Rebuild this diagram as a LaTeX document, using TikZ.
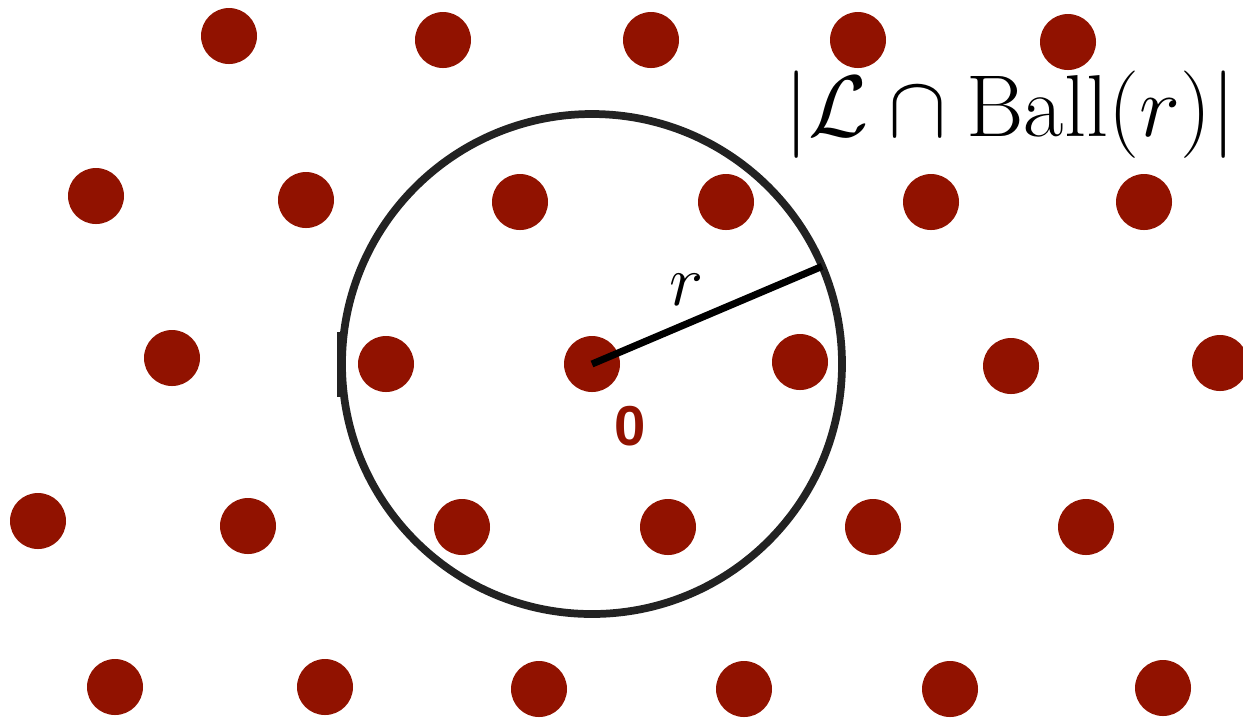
\documentclass[tikz,border=0pt]{standalone}
\usepackage{amsmath}
\usepackage{amssymb}
\usepackage{fontspec}
\usepackage{tikz}
\usetikzlibrary{positioning}
\usepackage{xcolor}

\newfontfamily\originfont{Liberation Sans}
\definecolor{latred}{RGB}{145,18,0}
\definecolor{ringgray}{RGB}{34,34,34}

\begin{document}
\begin{tikzpicture}[
    x=0.1mm, y=-0.1mm,
    latpt/.style={circle, fill=latred, minimum size=5.6mm, inner sep=0pt},
    ballring/.style={circle, draw=ringgray, line width=2.2pt, minimum size=50mm, inner sep=0pt, outer sep=0pt},
    radius/.style={line width=2pt, black}
]
\useasboundingbox (0,0) rectangle (1243,717);

% Lattice points
\foreach \px/\py [count=\k] in {229/36, 443/40, 651/40, 858/40, 1068/42,
    96/196, 306/200, 520/202, 726/202, 931/202, 1144/202,
    172/358, 386/364, 800/362, 1011/366, 1220/363,
    38/521, 248/526, 462/527, 668/527, 873/527, 1086/527,
    115/687, 325/687, 539/689, 744/689, 950/689, 1163/688}
    \node[latpt] (p\k) at (\px,\py) {};

% Origin
\node[latpt] (origin) at (592,364) {};
\node[text=latred, font=\originfont\bfseries\fontsize{16}{18}\selectfont] (zero) at (630,426) {0};

% Ball of radius r
\node[ballring] (ball) at (origin) {};
\draw[line width=1pt, ringgray] (339,332) -- (339,397);
\draw[radius] (origin.center) -- (ball.23);
\node[font=\fontsize{21}{24}\selectfont] (rlabel) at (687,290) {$r$};

% Count label
\node[font=\fontsize{25}{29}\selectfont, inner sep=0pt] (count) at (1010,115)
    {$|\mathcal{L} \cap \mathrm{Ball}(r)|$};

\end{tikzpicture}
\end{document}
